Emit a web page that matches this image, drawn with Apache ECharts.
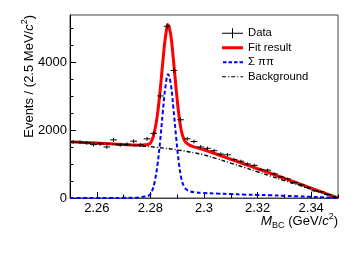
<!DOCTYPE html>
<html><head><meta charset="utf-8">
<script src="https://cdn.jsdelivr.net/npm/echarts@6/dist/echarts.min.js"></script>
<style>html,body{margin:0;padding:0;background:#fff}#c{width:353px;height:254px}</style>
</head><body><div id="c"></div>
<script>
// ---- data ----
const binStart = 2.25;
const binWidth = 0.0025;
const dataCounts = [1650,1640,1620,1570,1590,1500,1710,1560,1580,1670,
                    1560,1740,1900,3000,5050,3750,2300,1740,1660,1500,
                    1460,1390,1290,1270,1130,1080,1000,960,840,820,
                    710,620,560,460,390,310,210,180,100,20];
const curveX = [2.250,2.255,2.260,2.265,2.270,2.274,2.276,2.278,2.2796,2.2806,
                2.2816,2.2826,2.2836,2.2846,2.2856,2.2866,2.2876,2.2886,2.2896,2.2906,
                2.2916,2.2926,2.2936,2.2946,2.2966,2.2996,2.305,2.310,2.315,2.320,
                2.325,2.330,2.335,2.340,2.345,2.350];
const sigY = [0,0,1,2,4,10,20,45,80,200,
              480,950,1650,2500,3260,3640,3350,2630,1790,1050,
              560,330,240,200,170,150,130,115,100,90,
              80,65,50,35,18,0];
const bkgY = [1650,1633,1614,1592,1567,1545,1533,1520,1509,1502,
              1495,1487,1479,1470,1461,1451,1441,1430,1419,1407,
              1395,1382,1368,1354,1325,1275,1150,1025,900,770,
              640,510,385,255,127,0];
const fitY = [1650,1633,1615,1594,1571,1555,1553,1565,1589,1702,
              1975,2437,3129,3970,4721,5091,4791,4060,3209,2457,
              1955,1712,1608,1554,1495,1425,1280,1140,1000,860,
              720,575,435,290,145,0];
const xTickLabels = [2.26,2.28,2.30,2.32,2.34];
const xMinorTicks = [2.25,2.26,2.27,2.28,2.29,2.30,2.31,2.32,2.33,2.34,2.35];
const yTickLabels = [0,2000,4000];
const yMinorTicks = [500,1000,1500,2500,3000,3500,4500,5000];
const seriesNames = ['Data','Fit result','\u03A3 \u03C0\u03C0','Background'];

const FONT = 'Liberation Sans, Arial, Helvetica, sans-serif';
const pts = arr => curveX.map((x,i)=>[x,arr[i]]);
const dataPts = dataCounts.map((v,i)=>[binStart+binWidth*(i+0.5), v, Math.sqrt(v)]);
// corner anchors keep legend path icons from being stretched
const BOX = 'M0,0H0.01V0.01H0Z M20.99,9.99H21V10H20.99Z ';

const chart = echarts.init(document.getElementById('c'), null, {renderer:'canvas'});
chart.setOption({
  animation:false,
  backgroundColor:'#fff',
  grid:{left:70,right:15,top:15,bottom:56,show:true,borderColor:'#444',borderWidth:1,backgroundColor:'transparent'},
  xAxis:[
    {type:'value',min:2.25,max:2.35,position:'bottom',
     axisLine:{show:true,lineStyle:{color:'#444',width:1}},
     axisTick:{show:true,inside:true,length:6,customValues:xTickLabels,lineStyle:{color:'#000'}},
     axisLabel:{customValues:xTickLabels,fontSize:13,fontFamily:FONT,color:'#000',margin:4,
                formatter:v=>String(+v.toFixed(2))},
     splitLine:{show:false}},
    {type:'value',min:2.25,max:2.35,position:'bottom',
     axisLine:{show:false},
     axisTick:{show:true,inside:true,length:3.5,customValues:xMinorTicks,lineStyle:{color:'#000'}},
     axisLabel:{show:false},splitLine:{show:false}}
  ],
  yAxis:[
    {type:'value',min:0,max:5380,position:'left',
     axisLine:{show:true,lineStyle:{color:'#000',width:1}},
     axisTick:{show:true,inside:true,length:6,customValues:yTickLabels,lineStyle:{color:'#000'}},
     axisLabel:{customValues:yTickLabels,fontSize:13,fontFamily:FONT,color:'#000',margin:3,
                formatter:v=>String(v)},
     splitLine:{show:false}},
    {type:'value',min:0,max:5380,position:'left',
     axisLine:{show:false},
     axisTick:{show:true,inside:true,length:3.5,customValues:yMinorTicks,lineStyle:{color:'#000'}},
     axisLabel:{show:false},splitLine:{show:false}}
  ],
  legend:{
    orient:'vertical',left:217,top:21,itemWidth:21,itemHeight:10,itemGap:0,
    textStyle:{fontSize:11.3,fontFamily:FONT,color:'#000',lineHeight:14.5},
    data:[
      {name:seriesNames[0],icon:'path://'+BOX+'M0,4.5H21V5.6H0Z M10,0H11V10H10Z',itemStyle:{color:'#000'}},
      {name:seriesNames[1],icon:'path://'+BOX+'M0,3.5H21V6.5H0Z',itemStyle:{color:'#ff0000'}},
      {name:seriesNames[2],icon:'path://'+BOX+'M1,4H4.5V6H1Z M6.5,4H10V6H6.5Z M12,4H15.5V6H12Z M17.5,4H21V6H17.5Z',itemStyle:{color:'#0000ff'}},
      {name:seriesNames[3],icon:'path://'+BOX+'M0,4.4H4V5.6H0Z M6,4.4H7.2V5.6H6Z M9.2,4.4H13.2V5.6H9.2Z M15.2,4.4H16.4V5.6H15.2Z M18.4,4.4H21V5.6H18.4Z',itemStyle:{color:'#000'}}
    ]
  },
  series:[
    {name:seriesNames[1],type:'line',data:pts(fitY),smooth:0.4,symbol:'none',z:3,
     lineStyle:{color:'#ff0000',width:3},itemStyle:{color:'#ff0000'},clip:true},
    {name:seriesNames[2],type:'line',data:pts(sigY),smooth:0.4,symbol:'none',z:4,
     lineStyle:{color:'#0000ff',width:2,type:[4,2.5]},itemStyle:{color:'#0000ff'},clip:true},
    {name:seriesNames[3],type:'line',data:pts(bkgY),smooth:0.4,symbol:'none',z:4,
     lineStyle:{color:'#000',width:1.4,type:[4,2,1,2]},itemStyle:{color:'#000'},clip:true},
    {name:seriesNames[0],type:'custom',z:5,itemStyle:{color:'#000'},
     data:dataPts, encode:{x:0,y:1},
     renderItem:function(params,api){
       const c=api.value(0), v=api.value(1), e=api.value(2);
       const a=api.coord([c-binWidth/2,v]), b=api.coord([c+binWidth/2,v]);
       const t=api.coord([c,v+e]), d=api.coord([c,v-e]);
       const st={stroke:'#000',lineWidth:1};
       return {type:'group',children:[
         {type:'line',shape:{x1:a[0],y1:a[1],x2:b[0],y2:b[1]},style:st},
         {type:'line',shape:{x1:t[0],y1:t[1]-0.5,x2:d[0],y2:d[1]+0.5},style:st}
       ]};
     }}
  ],
  graphic:[
    {type:'text',x:29,y:15,rotation:Math.PI/2,
     style:{text:'Events / (2.5 MeV/{i|c}{sup|2})',align:'right',verticalAlign:'middle',
       font:'13px '+FONT,fill:'#000',
       rich:{i:{fontStyle:'italic',fontSize:13,fontFamily:FONT,lineHeight:18,verticalAlign:'middle'},
             sup:{fontSize:9,fontFamily:FONT,lineHeight:18,verticalAlign:'top'}}}},
    {type:'text',x:338,y:221,
     style:{text:'{m|M}{sub|BC} (GeV/{i|c}{sup|2})',align:'right',verticalAlign:'middle',
       font:'13px '+FONT,fill:'#000',
       rich:{m:{fontStyle:'italic',fontSize:13.5,fontFamily:FONT,lineHeight:18,verticalAlign:'middle'},
             sub:{fontSize:9,fontFamily:FONT,lineHeight:18,verticalAlign:'bottom'},
             i:{fontStyle:'italic',fontSize:13,fontFamily:FONT,lineHeight:18,verticalAlign:'middle'},
             sup:{fontSize:9,fontFamily:FONT,lineHeight:18,verticalAlign:'top'}}}}
  ]
});
</script></body></html>
